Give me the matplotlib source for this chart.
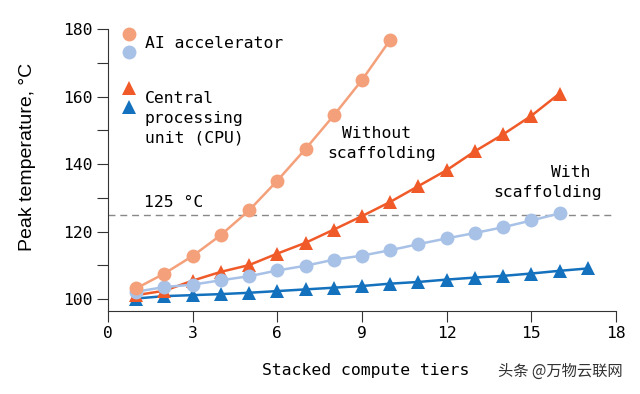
import matplotlib
matplotlib.use("Agg")
import matplotlib.pyplot as plt

# Data
tiers_ai_no = [1, 2, 3, 4, 5, 6, 7, 8, 9, 10]
ai_no = [103.2, 107.6, 112.8, 119.0, 126.3, 135.1, 144.5, 154.4, 164.9, 176.8]
tiers_ai_sc = list(range(1, 17))
ai_sc = [102.2, 103.6, 104.3, 105.6, 106.8, 108.5, 109.9, 111.7, 112.9, 114.5,
         116.3, 118.0, 119.6, 121.3, 123.3, 125.4]
tiers_cpu_no = list(range(1, 17))
cpu_no = [101.2, 102.5, 105.5, 108.1, 110.1, 113.5, 116.7, 120.6, 124.6, 128.8,
          133.5, 138.2, 143.8, 148.8, 154.3, 160.9]
tiers_cpu_sc = list(range(1, 18))
cpu_sc = [100.2, 100.9, 101.2, 101.5, 101.9, 102.4, 102.9, 103.4, 103.9, 104.6,
          105.1, 105.8, 106.4, 106.9, 107.6, 108.4, 109.1]
xticks = [0, 3, 6, 9, 12, 15, 18]
yticks = [100, 120, 140, 160, 180]
yminor = [110, 130, 150, 170]
limit = 125

C_AI_NO = "#F4A07A"
C_AI_SC = "#A8C1E7"
C_CPU_NO = "#F05A28"
C_CPU_SC = "#1471BD"

mono = "DejaVu Sans Mono"
FS = 11.8

fig = plt.figure(figsize=(6.4, 3.94), dpi=100)
ax = fig.add_axes([108/640, 1-311/394, (616-108)/640, (311-29)/394])

ax.plot(tiers_cpu_sc, cpu_sc, color=C_CPU_SC, marker="^", ms=10.5, mew=0, lw=1.8, zorder=3)
ax.plot(tiers_cpu_no, cpu_no, color=C_CPU_NO, marker="^", ms=10.5, mew=0, lw=1.8, zorder=3)
ax.plot(tiers_ai_sc, ai_sc, color=C_AI_SC, marker="o", ms=10, mew=0, lw=1.8, zorder=4)
ax.plot(tiers_ai_no, ai_no, color=C_AI_NO, marker="o", ms=10, mew=0, lw=1.8, zorder=4)

ax.hlines(limit, 0, 17.9, colors="#888888", linestyles=(0, (5, 3.5)), lw=1.0, zorder=2)

ax.set_xlim(0, 18)
ax.set_ylim(96.5, 180)
ax.set_xticks(xticks)
ax.set_yticks(yticks)
ax.set_yticks(yminor, minor=True)
ax.tick_params(axis="both", which="both", length=8, width=0.8, color="#333333",
               labelsize=FS, pad=3)
for lab in ax.get_xticklabels() + ax.get_yticklabels():
    lab.set_fontfamily(mono)
for s in ["top", "right"]:
    ax.spines[s].set_visible(False)
for s in ["left", "bottom"]:
    ax.spines[s].set_color("#333333")
    ax.spines[s].set_linewidth(0.8)

fig.text(366/640, 1-370/394, "Stacked compute tiers", fontfamily=mono, fontsize=FS,
         ha="center", va="center")
fig.text(28/640, 1-157/394, "Peak temperature, °C", fontfamily="Liberation Sans",
         fontsize=14, rotation=90, ha="center", va="center")

# In-plot annotations
ax.text(1.28, 128.7, "125 °C", fontfamily=mono, fontsize=FS, ha="left", va="center")
ax.text(9.53, 149.1, "Without", fontfamily=mono, fontsize=FS, ha="center", va="center")
ax.text(9.71, 143.2, "scaffolding", fontfamily=mono, fontsize=FS, ha="center", va="center")
ax.text(16.4, 137.6, "With", fontfamily=mono, fontsize=FS, ha="center", va="center")
ax.text(15.56, 131.7, "scaffolding", fontfamily=mono, fontsize=FS, ha="center", va="center")

# Legend (manual)
ax.plot([0.74], [178.4], marker="o", ms=10, mew=0, color=C_AI_NO, ls="none", clip_on=False)
ax.plot([0.74], [173.1], marker="o", ms=10, mew=0, color=C_AI_SC, ls="none", clip_on=False)
ax.text(1.3, 175.7, "AI accelerator", fontfamily=mono, fontsize=FS, va="center")
ax.plot([0.74], [162.4], marker="^", ms=10.5, mew=0, color=C_CPU_NO, ls="none", clip_on=False)
ax.plot([0.74], [156.8], marker="^", ms=10.5, mew=0, color=C_CPU_SC, ls="none", clip_on=False)
ax.text(1.3, 153.5, "Central\nprocessing\nunit (CPU)", fontfamily=mono, fontsize=FS,
        va="center", linespacing=1.4)

fig.text(560/640, 1-371/394, "头条 @万物云联网", fontfamily=["Noto Sans CJK SC", "DejaVu Sans"],
         fontsize=11, color="#333333", ha="center", va="center")

fig.savefig("out.png", dpi=100)
